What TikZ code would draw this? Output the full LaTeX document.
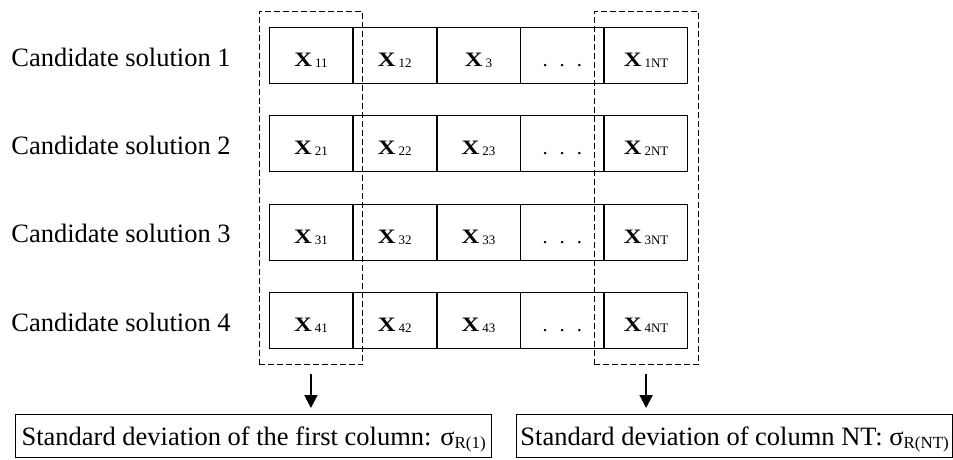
\documentclass[tikz,border=0pt]{standalone}
\usepackage{fontspec}
\setmainfont{Liberation Serif}
\usetikzlibrary{arrows.meta,fit}
\newcommand\xv[1]{\scalebox{1.2}[1]{\bfseries X}\hspace{3pt}\raisebox{-1pt}{\fontsize{13}{14}\selectfont #1}}
\newcommand\sgsub[1]{σ\raisebox{-3pt}{\fontsize{17}{18}\selectfont #1}}
\begin{document}
\begin{tikzpicture}[x=1pt,y=-1pt,
 cell/.style={draw, line width=0.8pt, minimum width=83pt, minimum height=56pt, inner sep=0pt, anchor=north west, text height=22pt, text depth=0pt, font=\fontsize{20.5}{22}\selectfont},
 cand/.style={anchor=base, font=\fontsize{26.5}{30}\selectfont, inner sep=0pt},
 colbox/.style={draw, dash pattern=on 6pt off 3pt, line width=0.8pt},
 result/.style={draw, line width=1.3pt, minimum height=43pt, anchor=north west, inner sep=0pt, text height=22pt, text depth=3pt, font=\fontsize{26.5}{30}\selectfont},
 down/.style={line width=2pt, -{Triangle[width=13pt,length=13pt]}}
]
\useasboundingbox (0,0) rectangle (953,459);
\foreach \r/\t/\a/\b/\c in {1/27/11/12/3, 2/115.33/21/22/23, 3/203.67/31/32/33, 4/292/41/42/43} {
  \node[cand] (lab\r) at (121,\t+39) {Candidate solution \r};
  \node[cell] (c\r1) at (269,\t) {\xv{\a}};
  \node[cell] (c\r2) at (c\r1.north east) {\xv{\b}};
  \node[cell] (c\r3) at (c\r2.north east) {\xv{\c}};
  \node[cell] (c\r4) at (c\r3.north east) {.\hspace{12pt}.\hspace{12pt}.};
  \node[cell] (c\r5) at (c\r4.north east) {\xv{\r NT}};
}
\node[colbox, fit=(c11)(c41), inner xsep=10pt, inner ysep=16pt] (d1) {};
\node[colbox, fit=(c15)(c45), inner xsep=10pt, inner ysep=16pt] (d2) {};
\node[result, minimum width=476pt] (r1) at (15,414) {Standard deviation of the first column: \sgsub{R(1)}};
\node[result, minimum width=436pt] (r2) at (516,414) {Standard deviation of column NT: \sgsub{R(NT)}};
\draw[down] ([yshift=-9pt]d1.south) -- ([yshift=6pt]d1.south |- r1.north);
\draw[down] ([yshift=-9pt]d2.south) -- ([yshift=6pt]d2.south |- r2.north);
\end{tikzpicture}
\end{document}
